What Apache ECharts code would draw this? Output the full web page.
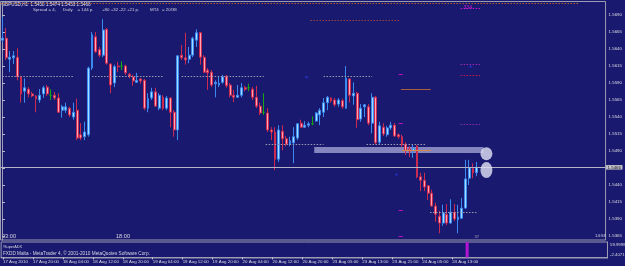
<!DOCTYPE html>
<html><head><meta charset="utf-8">
<script src="https://cdn.jsdelivr.net/npm/echarts@6/dist/echarts.min.js"></script>
<style>html,body{margin:0;padding:0;background:#191970;}#c{width:625px;height:266px;}</style>
</head><body><div id="c"></div><script>
// ---------- data ----------
const titleText = 'GBPUSD,H1  1.5458 1.5474 1.5453 1.5466';
const infoTexts = ['Spread = 4,', 'Daily', '= 144 p.', '+80 +32 -22 +21 p.', 'MT4', '= 20/38'];
const tickLabels = ['17 Aug 2010','17 Aug 20:00','18 Aug 04:00','18 Aug 12:00','18 Aug 20:00','19 Aug 04:00',
  '19 Aug 12:00','19 Aug 20:00','20 Aug 04:00','20 Aug 12:00','20 Aug 20:00','23 Aug 05:00','23 Aug 13:00',
  '23 Aug 21:00','24 Aug 05:00','24 Aug 13:00'];
const barsPerTick = 8;
const slotCount = 162;
// [open, close, low, high]
const ohlc = [
 [1.5653,1.5656,1.5650,1.5687],[1.5656,1.5627,1.5624,1.5671],[1.5625,1.5628,1.5606,1.5637],[1.5627,1.5630,1.5618,1.5637],
 [1.5628,1.5599,1.5594,1.5641],[1.5599,1.5574,1.5561,1.5600],[1.5578,1.5583,1.5561,1.5597],[1.5581,1.5574,1.5569,1.5584],
 [1.5574,1.5571,1.5569,1.5577],[1.5571,1.5567,1.5547,1.5572],[1.5565,1.5572,1.5561,1.5581],[1.5574,1.5583,1.5568,1.5586],
 [1.5584,1.5574,1.5571,1.5587],[1.5572,1.5572,1.5565,1.5581],[1.5572,1.5568,1.5565,1.5577],[1.5568,1.5547,1.5546,1.5575],
 [1.5550,1.5555,1.5539,1.5558],[1.5550,1.5555,1.5546,1.5561],[1.5553,1.5543,1.5540,1.5555],[1.5540,1.5547,1.5536,1.5561],
 [1.5550,1.5509,1.5506,1.5567],[1.5514,1.5509,1.5506,1.5531],[1.5511,1.5518,1.5506,1.5533],[1.5514,1.5612,1.5511,1.5614],
 [1.5612,1.5661,1.5609,1.5665],[1.5658,1.5636,1.5634,1.5665],[1.5639,1.5631,1.5628,1.5643],[1.5631,1.5668,1.5628,1.5684],
 [1.5669,1.5619,1.5617,1.5671],[1.5618,1.5587,1.5575,1.5619],[1.5590,1.5614,1.5584,1.5617],[1.5615,1.5614,1.5606,1.5621],
 [1.5615,1.5615,1.5609,1.5622],[1.5615,1.5605,1.5602,1.5617],[1.5603,1.5600,1.5597,1.5605],[1.5599,1.5593,1.5586,1.5602],
 [1.5591,1.5594,1.5590,1.5605],[1.5596,1.5593,1.5589,1.5597],[1.5594,1.5553,1.5550,1.5596],[1.5553,1.5567,1.5547,1.5575],
 [1.5568,1.5577,1.5565,1.5583],[1.5577,1.5556,1.5555,1.5583],[1.5553,1.5572,1.5550,1.5575],[1.5569,1.5553,1.5550,1.5572],
 [1.5553,1.5568,1.5550,1.5571],[1.5568,1.5547,1.5525,1.5569],[1.5547,1.5521,1.5511,1.5550],[1.5521,1.5630,1.5506,1.5631],
 [1.5631,1.5627,1.5624,1.5646],[1.5627,1.5624,1.5617,1.5664],[1.5625,1.5631,1.5619,1.5643],[1.5631,1.5656,1.5628,1.5658],
 [1.5653,1.5664,1.5643,1.5669],[1.5664,1.5628,1.5617,1.5665],[1.5628,1.5606,1.5605,1.5631],[1.5609,1.5605,1.5580,1.5612],
 [1.5606,1.5587,1.5584,1.5609],[1.5589,1.5591,1.5569,1.5594],[1.5587,1.5590,1.5584,1.5600],[1.5591,1.5599,1.5589,1.5602],
 [1.5600,1.5586,1.5583,1.5602],[1.5587,1.5572,1.5569,1.5590],[1.5572,1.5569,1.5562,1.5580],[1.5569,1.5572,1.5568,1.5587],
 [1.5572,1.5583,1.5569,1.5590],[1.5583,1.5581,1.5578,1.5586],[1.5583,1.5583,1.5578,1.5589],[1.5581,1.5569,1.5565,1.5584],
 [1.5569,1.5556,1.5553,1.5586],[1.5556,1.5546,1.5543,1.5561],[1.5547,1.5547,1.5543,1.5575],[1.5546,1.5521,1.5518,1.5553],
 [1.5521,1.5518,1.5506,1.5525],[1.5518,1.5478,1.5462,1.5525],[1.5478,1.5521,1.5474,1.5528],[1.5519,1.5508,1.5491,1.5528],
 [1.5508,1.5500,1.5497,1.5512],[1.5500,1.5505,1.5497,1.5511],[1.5502,1.5511,1.5472,1.5525],[1.5509,1.5530,1.5506,1.5531],
 [1.5531,1.5525,1.5524,1.5536],[1.5525,1.5528,1.5524,1.5534],[1.5528,1.5530,1.5525,1.5533],[1.5530,1.5530,1.5528,1.5541],
 [1.5534,1.5546,1.5533,1.5547],[1.5543,1.5550,1.5528,1.5553],[1.5547,1.5561,1.5540,1.5568],[1.5561,1.5569,1.5550,1.5571],
 [1.5568,1.5564,1.5561,1.5569],[1.5565,1.5558,1.5555,1.5568],[1.5559,1.5565,1.5555,1.5568],[1.5564,1.5555,1.5552,1.5567],
 [1.5553,1.5597,1.5552,1.5615],[1.5596,1.5572,1.5561,1.5597],[1.5571,1.5575,1.5558,1.5591],[1.5575,1.5536,1.5524,1.5577],
 [1.5537,1.5553,1.5533,1.5559],[1.5555,1.5558,1.5540,1.5559],[1.5555,1.5531,1.5528,1.5559],[1.5531,1.5569,1.5516,1.5575],
 [1.5569,1.5502,1.5500,1.5571],[1.5503,1.5527,1.5500,1.5533],[1.5525,1.5515,1.5512,1.5531],[1.5514,1.5524,1.5511,1.5527],
 [1.5524,1.5528,1.5521,1.5533],[1.5528,1.5512,1.5511,1.5531],[1.5514,1.5511,1.5508,1.5516],[1.5511,1.5499,1.5496,1.5514],
 [1.5500,1.5491,1.5484,1.5503],[1.5493,1.5490,1.5481,1.5497],[1.5490,1.5494,1.5480,1.5499],[1.5497,1.5452,1.5450,1.5499],
 [1.5452,1.5447,1.5431,1.5458],[1.5447,1.5437,1.5431,1.5458],[1.5439,1.5428,1.5418,1.5440],[1.5428,1.5409,1.5408,1.5433],
 [1.5409,1.5397,1.5386,1.5414],[1.5394,1.5384,1.5369,1.5402],[1.5384,1.5399,1.5380,1.5411],[1.5397,1.5384,1.5381,1.5412],
 [1.5384,1.5400,1.5383,1.5419],[1.5400,1.5390,1.5387,1.5412],[1.5389,1.5393,1.5369,1.5411],[1.5391,1.5406,1.5390,1.5421],
 [1.5406,1.5449,1.5405,1.5477],[1.5450,1.5465,1.5440,1.5477],[1.5464,1.5458,1.5450,1.5472],[1.5458,1.5466,1.5453,1.5474]
];
const priceTicks = [1.5365,1.5390,1.5415,1.5440,1.5465,1.5490,1.5515,1.5540,1.5565,1.5590,1.5615,1.5640,1.5665,1.5690];
const priceMin = 1.53591, priceMax = 1.57099;
const lastPrice = 1.5466;
const adxBars = [[124, 59.9998]];
const adxMin = -2.4071, adxMax = 59.9998;
// level segments [fromBar, toBar, price]
const roundLevels = [[0,19,1.5600],[24,43,1.5600],[48,70,1.5600],[86,99,1.5600],[70.5,86,1.5500],[97.5,113.5,1.5500],[114.5,127,1.5400]];
const topLevel = [-0.5, 154.5, 1.5708];
const brownLevel = [82.5, 106.5, 1.5683];
const targetLevels = [[122.7,128.3,1.5700],[122.7,128.3,1.5617],[122.7,128.3,1.5602],[122.7,128.3,1.5530]];
const dashLevels = [[106.1,107.2,1.5603],[106.1,107.2,1.5531],[106.1,107.2,1.5403],[106.1,107.2,1.5364]];
const brownSolid = [106.7, 114.7, 1.5581];
const orangeSolid = [107, 114.7, 1.5491];
const band = [83.5, 128.8, 1.5487, 1.5496];
const circles = [[129.6, 1.5486], [129.6, 1.5462]];
const blueMarks = [[81.4, 1.5599], [125.4, 1.5614], [105.5, 1.5456]];
const magentaLabel = [124.6, 1.5701, '334'];

// ---------- chart ----------
const cats = Array.from({length: slotCount}, (_, i) => String(i));
const fmt = v => v.toFixed(4);
const seg = (s, style) => [{coord:[s[0], s[2]], lineStyle: style}, {coord:[s[1], s[2]]}];
const dotted = (c) => ({color:c, width:1, type:[1.5,1.5]});
const targetColors = ['#c818c8','#9a2ab0','#c02048','#8a2aa8'];

const priceLine = [{coord:[-0.5, lastPrice], lineStyle:{color:'#b4b4c6', type:'solid', width:1},
  label:{show:true, position:'end', formatter:()=>fmt(lastPrice), backgroundColor:'#c4c4cc', color:'#101010',
    fontSize:4.4, fontFamily:'Liberation Sans', padding:[0.5,1.5,0,1.5], distance:0.5}},
  {coord:[slotCount - 0.5, lastPrice]}];

const lineSegs = [].concat(
  roundLevels.map(s => seg(s, dotted('#9a9aae'))),
  [seg(topLevel, dotted('#b0602c'))],
  [seg(brownLevel, dotted('#a04038'))],
  targetLevels.map((s, k) => seg(s, dotted(targetColors[k]))),
  dashLevels.map(s => seg(s, {color:'#c010c0', width:1, type:'solid'})),
  [seg(brownSolid, {color:'#a8603c', width:1, type:'solid'})],
  [seg(orangeSolid, {color:'#d88844', width:1, type:'solid'})],
  [priceLine]
);

const GRID_L = 0.5, GRID_R = 17.5;
const font = 'Liberation Sans';
const chart = echarts.init(document.getElementById('c'), null, {renderer:'canvas'});
chart.setOption({
  animation: false,
  backgroundColor: '#191970',
  grid: [
    {left: GRID_L, right: GRID_R, top: 1.5, height: 238.5, show: true, borderColor: '#9c9cb2', borderWidth: 1, backgroundColor: 'transparent'},
    {left: GRID_L, right: GRID_R, top: 242, height: 16, show: true, borderColor: '#9c9cb2', borderWidth: 1, backgroundColor: 'transparent'}
  ],
  xAxis: [
    {type:'category', gridIndex:0, data:cats, boundaryGap:true, show:false},
    {type:'category', gridIndex:1, data:cats, boundaryGap:true,
      axisLine:{show:true, lineStyle:{color:'#9c9cb2'}},
      axisTick:{show:true, alignWithLabel:true, length:2, interval:(i)=> i % barsPerTick === 0 && i / barsPerTick < tickLabels.length, lineStyle:{color:'#c8c8d4'}},
      axisLabel:{show:true, interval:(i)=> i % barsPerTick === 0 && i / barsPerTick < tickLabels.length,
        formatter:(v, i)=> tickLabels[i / barsPerTick] || '', align:'left', margin:1.5,
        fontSize:4.4, fontFamily:font, color:'#dcdce4'}},
    {type:'value', gridIndex:0, min:-0.5, max:slotCount-0.5, show:false}
  ],
  yAxis: [
    {type:'value', gridIndex:0, position:'right', min:priceMin, max:priceMax, scale:true,
      splitLine:{show:false},
      axisLine:{show:true, lineStyle:{color:'#9c9cb2'}},
      axisTick:{show:true, length:2.5, customValues:priceTicks, lineStyle:{color:'#c8c8d4'}},
      axisLabel:{show:true, customValues:priceTicks, formatter:fmt, margin:3, fontSize:4.4, fontFamily:font, color:'#dcdce4'}},
    {type:'value', gridIndex:1, position:'right', min:adxMin, max:adxMax,
      splitLine:{show:false}, axisLine:{show:true, lineStyle:{color:'#9c9cb2'}},
      axisTick:{show:false}, axisLabel:{show:false}}
  ],
  series: [
    {type:'line', xAxisIndex:2, yAxisIndex:0, data:[], silent:true, z:1,
      markArea:{silent:true, itemStyle:{color:'rgba(200,200,240,0.62)'},
        data:[[{coord:[band[0], band[3]]}, {coord:[band[1], band[2]]}]]},
      markLine:{silent:true, symbol:['none','none'], label:{show:false}, data:lineSegs},
      markPoint:{silent:true, data:[].concat(
        circles.map((c, k) => ({coord:c, symbol:'circle', symbolSize: k === 0 ? [12,13] : [12,16],
          itemStyle:{color:'rgba(222,222,242,0.82)'}, label:{show:false}})),
        blueMarks.map((c, k) => ({coord:c, symbol:'circle', symbolSize:0.1,
          label:{show:true, position:'inside', formatter: k === 0 ? '×' : '+', color:'#2844ff', fontSize:6, fontFamily:font}})),
        [{coord:[magentaLabel[0], magentaLabel[1]], symbol:'circle', symbolSize:0.1,
          label:{show:true, position:'inside', formatter:magentaLabel[2], color:'#d020d0', fontSize:5, fontFamily:font}}]
      )}},
    {type:'candlestick', xAxisIndex:0, yAxisIndex:0, data:ohlc, barWidth:2.4, z:3,
      itemStyle:{color:'#a4dcff', color0:'#ffa4b4', borderColor:'#3a8af0', borderColor0:'#cc2a4e', borderColorDoji:'#14a614', borderWidth:1}},
    {type:'bar', xAxisIndex:1, yAxisIndex:1, data:adxBars, barWidth:3, itemStyle:{color:'#b414d4'}}
  ],
  graphic: [
    {type:'text', left:1.5, top:2.5, style:{text:titleText, font:'4.6px "Liberation Sans"', fill:'#e4e4ec'}},
    {type:'text', x:33, y:7.5, style:{text:infoTexts[0], font:'4.4px "Liberation Sans"', fill:'#d0d0dc'}},
    {type:'text', x:63, y:7.5, style:{text:infoTexts[1], font:'4.4px "Liberation Sans"', fill:'#d0d0dc'}},
    {type:'text', x:77.5, y:7.5, style:{text:infoTexts[2], font:'4.4px "Liberation Sans"', fill:'#d0d0dc'}},
    {type:'text', x:102, y:7.5, style:{text:infoTexts[3], font:'4.4px "Liberation Sans"', fill:'#d0d0dc'}},
    {type:'text', x:150, y:7.5, style:{text:infoTexts[4], font:'4.4px "Liberation Sans"', fill:'#d0d0dc'}},
    {type:'text', x:162, y:7.5, style:{text:infoTexts[5], font:'4.4px "Liberation Sans"', fill:'#d0d0dc'}},
    {type:'text', x:2, y:233.5, style:{text:'03:00', font:'5.6px "Liberation Sans"', fill:'#d8d8e2'}},
    {type:'text', x:116, y:233.5, style:{text:'18:00', font:'5.6px "Liberation Sans"', fill:'#d8d8e2'}},
    {type:'text', x:606, y:234, style:{text:'14:58', font:'4.4px "Liberation Sans"', fill:'#d8d8e2', align:'right'}},
    {type:'text', x:474.5, y:235, style:{text:'37', font:'4px "Liberation Sans"', fill:'#a8a8bc'}},
    {type:'text', x:3, y:244.5, style:{text:'!SuperADX', font:'3.8px "Liberation Sans"', fill:'#d8d8e2'}},
    {type:'text', x:3, y:251.5, style:{text:'FXDD Malta - MetaTrader 4, \u00a9 2001-2010 MetaQuotes Software Corp.', font:'4.7px "Liberation Sans"', fill:'#d8d8e2'}},
    {type:'text', x:610, y:243, style:{text:adxMax.toFixed(4), font:'4.3px "Liberation Sans"', fill:'#d8d8e2'}},
    {type:'text', x:610, y:253, style:{text:adxMin.toFixed(4), font:'4.3px "Liberation Sans"', fill:'#d8d8e2'}}
  ]
});
</script></body></html>
